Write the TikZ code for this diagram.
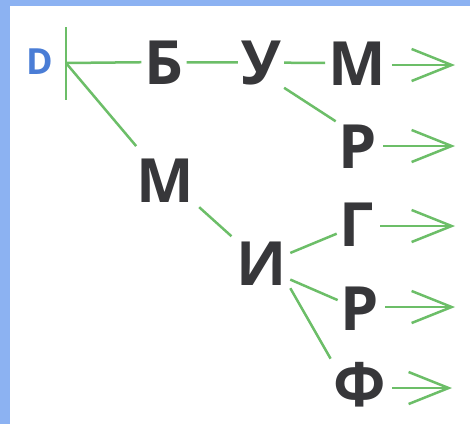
\documentclass[tikz,border=0pt]{standalone}
\usepackage{fontspec}
\setmainfont{Open Sans}
\usetikzlibrary{arrows.meta}
\definecolor{bgblue}{RGB}{140,178,242}
\definecolor{lgreen}{RGB}{108,190,104}
\definecolor{ink}{RGB}{55,55,58}
\definecolor{dblue}{RGB}{74,125,214}
\begin{document}
\begin{tikzpicture}[x=1pt,y=-1pt,
  letter/.style={font=\fontsize{61}{61}\selectfont\bfseries, text=ink, inner sep=3pt, anchor=base},
  link/.style={draw=lgreen, line width=2.5pt},
  arr/.style={link, shorten <=3pt, -{Straight Barb[length=40pt,width=32pt]}}]
\fill[bgblue] (0,0) rectangle (470,424);
\fill[white] (10,6) rectangle (470,424);
\useasboundingbox (0,0) rectangle (470,424);
\node[font=\fontsize{36}{36}\selectfont\bfseries, text=dblue, inner sep=2pt, anchor=base] (D) at (40,74) {D};
\node[letter] (B) at (164,84) {Б};
\node[letter] (U) at (261,84) {У};
\node[letter] (M1) at (357,85) {М};
\node[letter] (R1) at (358,168) {Р};
\node[letter] (M2) at (165,202) {М};
\node[letter] (I) at (262,285) {И};
\node[letter] (G) at (357,246) {Г};
\node[letter] (R2) at (360,330) {Р};
\node[letter] (F) at (360,406) {Ф};
\coordinate (bar) at (66,63);
\coordinate (bartop) at (66,27);
\coordinate (barbot) at (66,100);
\coordinate (t1) at (455,65);
\coordinate (t2) at (455,146);
\coordinate (t3) at (455,226);
\coordinate (t4) at (455,307);
\coordinate (t5) at (452,388);
\draw[link] (bartop) -- (barbot);
\draw[link] (bar) -- (B.west);
\draw[link] (B) -- (U);
\draw[link] (U) -- (M1);
\draw[link] (U.south east) -- (R1.north west);
\draw[link, shorten >=12pt] (bar) -- (M2);
\draw[link, shorten <=3pt, shorten >=3pt] (M2.south east) -- (I.north west);
\draw[link] (I.20) -- (G.205);
\draw[link] (I.-30) -- (R2.160);
\draw[link] (I.south east) -- (F.north west);
\draw[arr] (M1.east |- t1) -- (t1);
\draw[arr] (R1.east |- t2) -- (t2);
\draw[arr] (G.east |- t3) -- (t3);
\draw[arr] (R2.east |- t4) -- (t4);
\draw[arr] (F.east |- t5) -- (t5);
\end{tikzpicture}
\end{document}
